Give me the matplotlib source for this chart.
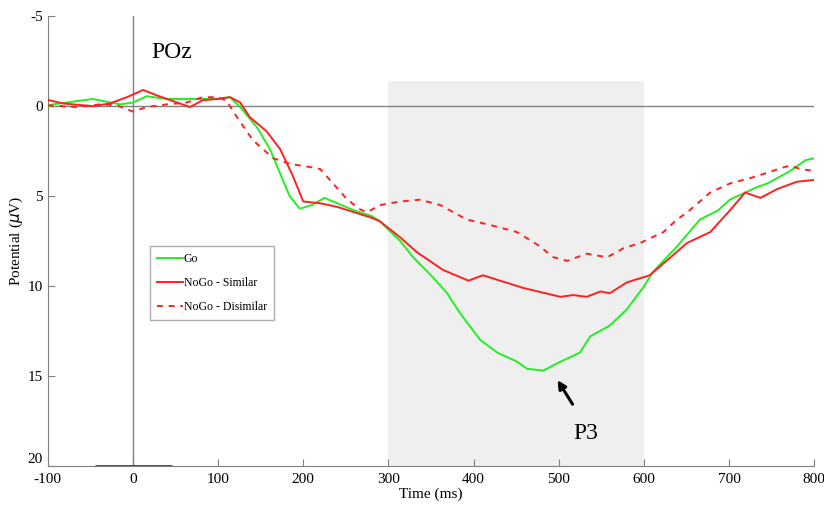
import matplotlib.pyplot as plt

plt.rcParams['font.family'] = ['Liberation Serif', 'DejaVu Serif']
plt.rcParams['axes.unicode_minus'] = False

# Go
go_t = [-100, -94, -47, -15, 0, 16, 40, 71, 99, 114, 126, 146, 161, 184, 196, 210, 225, 240,
        260, 280, 290, 314, 329, 350, 369, 384, 408, 428, 451, 463, 482, 498, 525, 537, 560,
        580, 599, 611, 639, 666, 687, 701, 733, 745, 772, 790, 800]
go_v = [0.0, -0.1, -0.4, -0.1, -0.2, -0.55, -0.4, -0.4, -0.4, -0.5, 0.05, 1.2, 2.4, 5.0, 5.7,
        5.5, 5.1, 5.4, 5.8, 6.1, 6.4, 7.5, 8.4, 9.4, 10.4, 11.5, 13.0, 13.7, 14.2, 14.6, 14.7,
        14.3, 13.7, 12.8, 12.2, 11.3, 10.1, 9.2, 7.8, 6.3, 5.8, 5.2, 4.5, 4.3, 3.6, 3.0, 2.9]

# NoGo - Similar
sim_t = [-100, -82, -47, -27, -7, 12, 28, 52, 67, 82, 99, 114, 126, 137, 157, 173, 188, 200,
         220, 240, 260, 280, 290, 314, 333, 364, 394, 411, 431, 458, 502, 517, 533, 549, 560,
         580, 607, 651, 678, 701, 719, 737, 757, 780, 800]
sim_v = [-0.35, -0.15, 0.0, -0.15, -0.5, -0.9, -0.6, -0.2, 0.05, -0.33, -0.4, -0.5, -0.2, 0.6,
         1.4, 2.4, 3.9, 5.3, 5.4, 5.6, 5.9, 6.2, 6.4, 7.3, 8.1, 9.1, 9.7, 9.4, 9.7, 10.1, 10.6,
         10.5, 10.6, 10.3, 10.4, 9.8, 9.4, 7.6, 7.0, 5.8, 4.8, 5.1, 4.6, 4.2, 4.1]

# NoGo - Disimilar
dis_t = [-100, -66, -39, -19, 0, 16, 40, 63, 82, 99, 110, 122, 141, 165, 184, 196, 210, 220,
         235, 250, 265, 275, 290, 314, 337, 361, 392, 419, 451, 475, 494, 510, 533, 557, 576,
         596, 623, 639, 651, 678, 701, 725, 745, 764, 772, 784, 800]
dis_v = [-0.05, 0.05, -0.1, -0.05, 0.3, 0.05, -0.1, -0.2, -0.5, -0.5, -0.3, 0.6, 1.9, 2.9, 3.2,
         3.3, 3.4, 3.5, 4.3, 5.1, 5.7, 5.9, 5.5, 5.3, 5.2, 5.5, 6.3, 6.6, 7.0, 7.7, 8.4, 8.6,
         8.2, 8.4, 7.9, 7.6, 7.0, 6.3, 5.9, 4.8, 4.3, 4.0, 3.7, 3.4, 3.3, 3.5, 3.6]

xticks = [-100, 0, 100, 200, 300, 400, 500, 600, 700, 800]
yticks = [-5, 0, 5, 10, 15, 20]

fig = plt.figure(figsize=(8.24, 5.07), dpi=100)
ax = fig.add_axes([0.058, 0.081, 0.930, 0.887])

ax.axvspan(300, 600, ymin=0, ymax=21.4 / 25, color='#efefef', zorder=0, lw=0)
ax.axhline(0, color='#808080', lw=1, zorder=1)
ax.axvline(0, color='#808080', lw=1, zorder=1)
ax.hlines(20, -45, 46, color='#404040', lw=2, zorder=3)

ax.plot(go_t, go_v, color='#22ee22', lw=1.4, label='Go', zorder=4)
ax.plot(sim_t, sim_v, color='#ff2020', lw=1.4, label='NoGo - Similar', zorder=4)
ax.plot(dis_t, dis_v, color='#ff2020', lw=1.4, linestyle=(0, (3, 3)),
        label='NoGo - Disimilar', zorder=4)

ax.set_xlim(-100, 800)
ax.set_ylim(20, -5)
ax.set_xticks(xticks)
ax.set_yticks(yticks)
ax.tick_params(direction='in', length=5, color='#808080', labelsize=11)
ax.tick_params(axis='x', pad=5)
for s in ['top', 'right']:
    ax.spines[s].set_visible(False)
for s in ['left', 'bottom']:
    ax.spines[s].set_color('#808080')
# nudge the bottom y label up so it clears "-100"
ax.get_yticklabels()[-1].set_va('bottom')

ax.set_xlabel('Time (ms)', fontsize=11, labelpad=1)
ax.set_ylabel(r'Potential ($\mu$V)', fontsize=11, labelpad=2)

ax.text(22, -3, 'POz', fontsize=17, va='center', ha='left')
ax.text(517, 18.2, 'P3', fontsize=17, va='center', ha='left')
ax.annotate('', xy=(497, 15.1), xytext=(518, 16.7),
            arrowprops=dict(arrowstyle='-|>', color='black', lw=2.2, mutation_scale=12))

leg = ax.legend(loc='upper left', bbox_to_anchor=(0.133, 0.489), fontsize=8.5,
                frameon=True, fancybox=False, edgecolor='#999999', handlelength=2.2,
                handletextpad=0.1, borderpad=0.6, labelspacing=1.0, borderaxespad=0)
leg.get_frame().set_linewidth(1)

fig.savefig('out.png', dpi=100)
